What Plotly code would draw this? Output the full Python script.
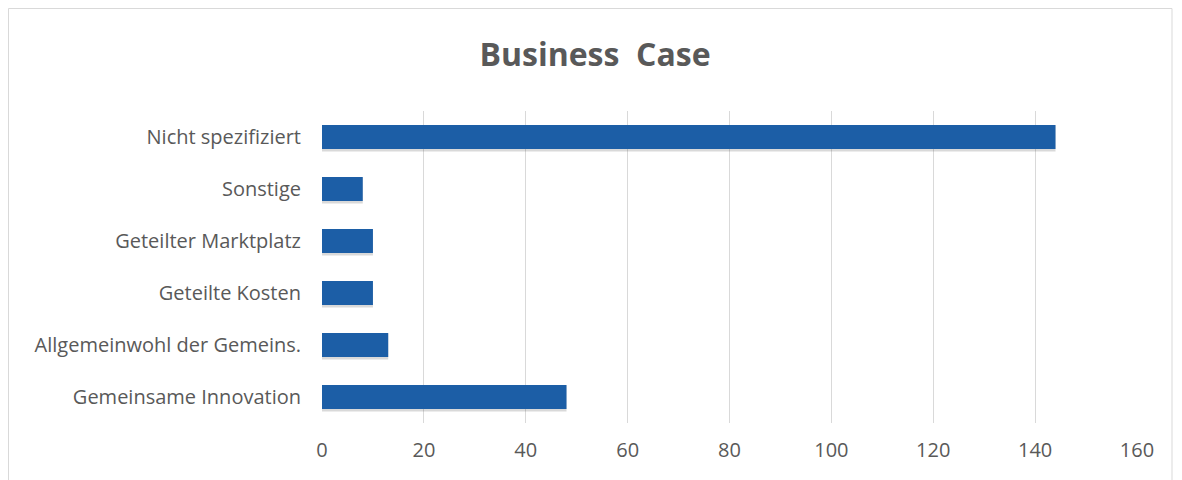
import plotly.graph_objects as go

categories = ["Gemeinsame Innovation", "Allgemeinwohl der Gemeins.", "Geteilte Kosten",
              "Geteilter Marktplatz", "Sonstige", "Nicht spezifiziert"]
values = [48, 13, 10, 10, 8, 144]
x_ticks = [0, 20, 40, 60, 80, 100, 120, 140, 160]

font_fam = "Open Sans, Liberation Sans, sans-serif"
txt_col = "#595959"

W, H = 1174, 472
ML, MR, MT, MB = 314, 45, 103, 57
PW = W - ML - MR
PH = H - MT - MB

fig = go.Figure()
# soft shadow
fig.add_trace(go.Bar(
    y=categories, x=values, orientation="h",
    marker=dict(color="rgba(80,80,80,0.22)", line=dict(width=0)),
    width=0.5, offset=-0.28, hoverinfo="skip", showlegend=False,
))
fig.add_trace(go.Bar(
    y=categories, x=values, orientation="h",
    marker=dict(color="#1c5ea6", line=dict(width=0)),
    width=0.46, offset=-0.23, showlegend=False,
))

fig.update_layout(
    width=W, height=H,
    paper_bgcolor="white", plot_bgcolor="white",
    margin=dict(l=ML, r=MR, t=MT, b=MB),
    barmode="overlay",
    title=dict(text="<b>Business&nbsp; Case</b>", x=(595 - 8) / W, xref="container", xanchor="center",
               y=1 - (55 - 8) / H, yref="container", yanchor="middle",
               font=dict(family=font_fam, size=32, color=txt_col)),
    xaxis=dict(range=[0, 160], tickvals=x_ticks, showgrid=True, gridcolor="#d9d9d9",
               gridwidth=1, zeroline=False, showline=False, ticks="",
               tickfont=dict(family=font_fam, size=20, color=txt_col),
               ticklabelstandoff=13),
    yaxis=dict(showgrid=False, zeroline=False, showline=False, ticks="",
               categoryorder="array", categoryarray=categories,
               tickfont=dict(family=font_fam, size=20, color=txt_col),
               ticklabelstandoff=20),
    shapes=[dict(type="rect", xref="paper", yref="paper",
                 x0=(-ML + 0.5) / PW, x1=(1172 - 8 - ML) / PW,
                 y0=-1, y1=(H - MB - 0.5) / PH,
                 line=dict(color="#d9d9d9", width=1), fillcolor="rgba(0,0,0,0)", layer="below")],
)

fig.write_html("out.html")
